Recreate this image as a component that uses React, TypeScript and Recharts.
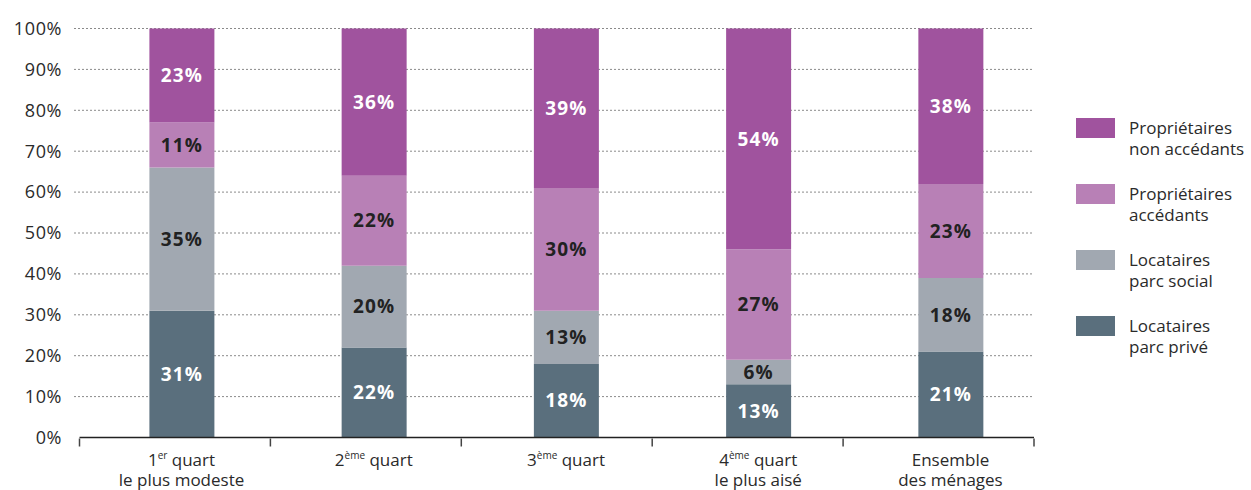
import { BarChart, Bar, XAxis, YAxis, CartesianGrid, LabelList, ReferenceLine } from "recharts"

// Quartiles de niveau de vie
const ranks = ["1", "2", "3", "4", ""]
const rankSups = ["er", "ème", "ème", "ème", ""]
const firstLines = ["quart", "quart", "quart", "quart", "Ensemble"]
const secondLines = ["le plus modeste", "", "", "le plus aisé", "des ménages"]

// Part des ménages par statut d'occupation (%)
const locatairesPrive = [31, 22, 18, 13, 21]
const locatairesSocial = [35, 20, 13, 6, 18]
const propAccedants = [11, 22, 30, 27, 23]
const propNonAccedants = [23, 36, 39, 54, 38]

const yTicks = [0, 10, 20, 30, 40, 50, 60, 70, 80, 90, 100]

const series = [
  { key: "prive", name: "Locataires\nparc privé", color: "#5a6f7d", text: "#ffffff" },
  { key: "social", name: "Locataires\nparc social", color: "#a1a8b1", text: "#222222" },
  { key: "acc", name: "Propriétaires\naccédants", color: "#b880b6", text: "#222222" },
  { key: "nonAcc", name: "Propriétaires\nnon accédants", color: "#a0539e", text: "#ffffff" },
]

const data = ranks.map((_, i) => ({
  cat: i,
  prive: locatairesPrive[i],
  social: locatairesSocial[i],
  acc: propAccedants[i],
  nonAcc: propNonAccedants[i],
}))

const FONT = "'Open Sans', 'Noto Sans', sans-serif"
const INK = "#2a2a2a"

function CategoryTick({ x, y, payload }: { x?: number; y?: number; payload?: { value: number } }) {
  const i = payload?.value ?? 0
  return (
    <g>
      <text x={x} y={(y ?? 0) + 28} textAnchor="middle" fontSize={17} fill={INK} fontFamily={FONT}>
        {ranks[i] && <tspan>{ranks[i]}</tspan>}
        {rankSups[i] && (
          <tspan fontSize={10} dy={-7}>
            {rankSups[i]}
          </tspan>
        )}
        <tspan dy={rankSups[i] ? 7 : 0}>{(ranks[i] ? " " : "") + firstLines[i]}</tspan>
      </text>
      {secondLines[i] && (
        <text x={x} y={(y ?? 0) + 48} textAnchor="middle" fontSize={17} fill={INK} fontFamily={FONT}>
          {secondLines[i]}
        </text>
      )}
    </g>
  )
}

function SideLegend() {
  const items = [...series].reverse()
  return (
    <div style={{ position: "absolute", left: 1076, top: 118, fontFamily: FONT, color: INK }}>
      {items.map((s) => (
        <div key={s.key} style={{ display: "flex", height: 66 }}>
          <span style={{ width: 39, height: 20, background: s.color, marginRight: 14, flexShrink: 0 }} />
          <span style={{ fontSize: 17, lineHeight: "21px", whiteSpace: "pre", marginTop: -1 }}>{s.name}</span>
        </div>
      ))}
    </div>
  )
}

export default function App() {
  return (
    <div style={{ position: "absolute", left: 0, top: 0, width: 1251, height: 490, background: "#fff" }}>
      <BarChart
        width={1251}
        height={490}
        data={data}
        margin={{ top: 28.5, right: 217, bottom: 12.5, left: 0 }}
      >
        <CartesianGrid
          horizontal
          vertical={false}
          horizontalValues={yTicks.filter((t) => t > 0)}
          stroke="#8a8a8a"
          strokeDasharray="2 2"
        />
        {/* graduations entre les catégories */}
        <XAxis
          xAxisId="frame"
          type="number"
          dataKey="cat"
          domain={[0, 5]}
          ticks={[0, 1, 2, 3, 4, 5]}
          padding={{ left: 5.5, right: 0 }}
          height={39}
          tick={() => <g />}
          axisLine={false}
          tickLine={{ stroke: "#444", strokeWidth: 1.5 }}
          tickSize={8}
          allowDataOverflow
        />
        <XAxis
          dataKey="cat"
          type="category"
          height={1}
          padding={{ left: 11.4, right: -12.6 }}
          axisLine={false}
          tickLine={false}
          tickSize={0}
          tickMargin={0}
          interval={0}
          tick={<CategoryTick />}
        />
        <YAxis
          domain={[0, 100]}
          ticks={yTicks}
          width={74}
          axisLine={false}
          tickLine={false}
          tickSize={0}
          tickMargin={12}
          tickFormatter={(v) => `${v}%`}
          tick={{ fontSize: 18, fill: INK, fontFamily: FONT, letterSpacing: 0.6 }}
        />
        {series.map((s) => (
          <Bar key={s.key} dataKey={s.key} name={s.name} stackId="a" fill={s.color} barSize={65} isAnimationActive={false}>
            <LabelList
              dataKey={s.key}
              position="center"
              formatter={(v) => `${v}%`}
              fill={s.text}
              fontSize={19}
              fontWeight={700}
              fontFamily={FONT}
              letterSpacing={1.2}
            />
          </Bar>
        ))}
        <ReferenceLine
          xAxisId="frame"
          segment={[
            { x: 0, y: 0 },
            { x: 5, y: 0 },
          ]}
          stroke="#222"
          strokeWidth={1.5}
          ifOverflow="visible"
        />
      </BarChart>
      <SideLegend />
    </div>
  )
}
